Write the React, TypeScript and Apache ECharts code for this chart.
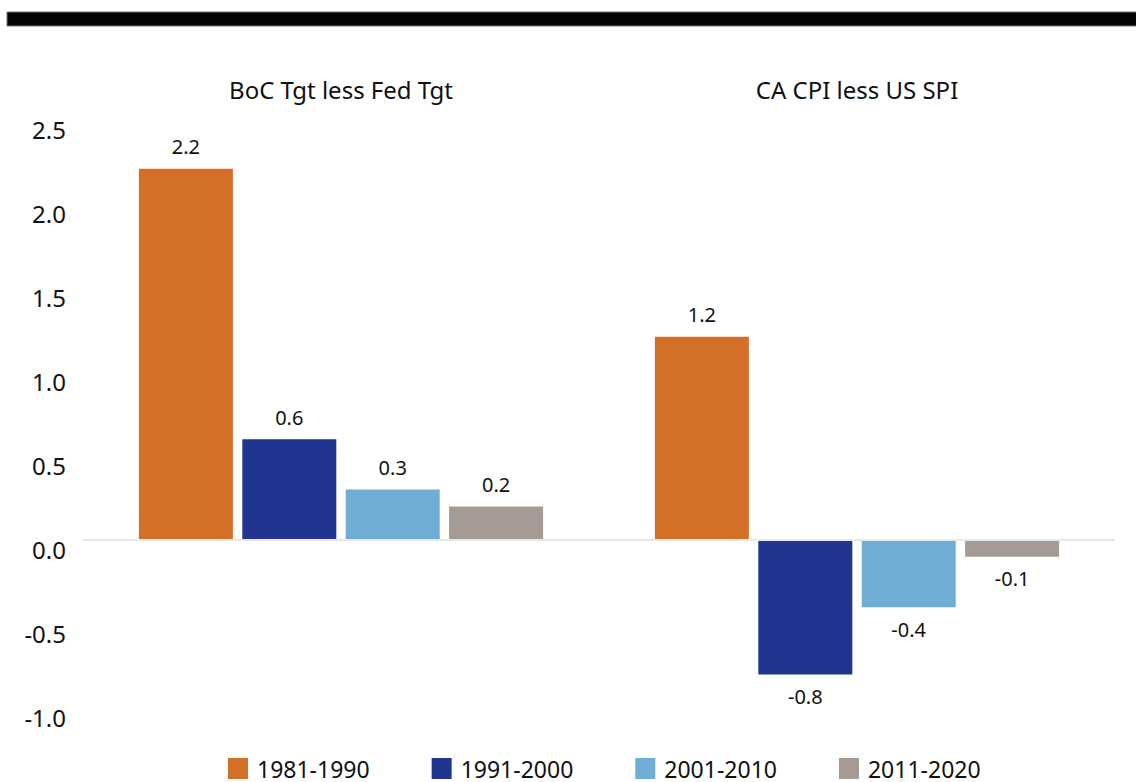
import React, { useEffect, useRef } from "react";
import * as echarts from "echarts";

const categories = ["BoC Tgt less Fed Tgt", "CA CPI less US SPI"];
const seriesNames = ["1981-1990", "1991-2000", "2001-2010", "2011-2020"];
const s1981 = [2.21, 1.21];
const s1991 = [0.6, -0.8];
const s2001 = [0.3, -0.4];
const s2011 = [0.2, -0.1];
const colors = ["#D46F28", "#1F3590", "#6FADD5", "#A59B94"];
const FONT = "'Noto Sans', 'Open Sans', sans-serif";

export default function App() {
  const ref = useRef<HTMLDivElement>(null);
  useEffect(() => {
    if (!ref.current) return;
    const chart = echarts.init(ref.current, null, { renderer: "svg" });
    const all = [s1981, s1991, s2001, s2011];
    const series: any[] = all.map((vals, i) => ({
      name: seriesNames[i],
      type: "bar",
      barWidth: 94,
      barGap: "10%",
      itemStyle: { color: colors[i] },
      data: vals.map((v) => ({
        value: v,
        label: { position: v < 0 ? "bottom" : "top" },
      })),
      label: {
        show: true,
        distance: 12,
        fontSize: 20,
        color: "#111",
        fontFamily: FONT,
        formatter: (p: any) => Number(p.value).toFixed(1),
      },
    }));
    series[0].markLine = {
      silent: true,
      symbol: "none",
      label: { show: false },
      lineStyle: { color: "#e8e8e8", width: 2, type: "solid" },
      data: [{ yAxis: 0 }],
    };
    chart.setOption({
      animation: false,
      textStyle: { fontFamily: FONT },
      grid: { left: 83, right: 21, top: 120, bottom: 74 },
      xAxis: {
        type: "category",
        position: "top",
        data: categories,
        axisLine: { show: false },
        axisTick: { show: false },
        axisLabel: { fontSize: 24, color: "#111", margin: 19, fontFamily: FONT },
      },
      yAxis: {
        type: "value",
        min: -1,
        max: 2.5,
        interval: 0.5,
        axisLine: { show: false },
        axisTick: { show: false },
        splitLine: { show: false },
        axisLabel: {
          fontSize: 24,
          color: "#111",
          margin: 17,
          verticalAlign: "top",
          lineHeight: 18,
          fontFamily: FONT,
          formatter: (v: number) => v.toFixed(1),
        },
      },
      legend: {
        data: seriesNames,
        left: 228,
        top: 757,
        padding: 0,
        itemWidth: 20,
        itemHeight: 21,
        itemGap: 62,
        icon: "rect",
        textStyle: { fontSize: 23, lineHeight: 21, color: "#111", fontFamily: FONT, padding: [0, 0, 0, 4] },
      },
      graphic: [
        {
          type: "rect",
          shape: { x: 7, y: 12, width: 1135, height: 14 },
          style: { fill: "#050505", stroke: "#777", lineWidth: 1 },
        },
      ],
      series,
    });
    return () => chart.dispose();
  }, []);
  return (
    <div
      ref={ref}
      style={{ position: "fixed", left: 0, top: 0, width: 1136, height: 782, background: "#fff" }}
    />
  );
}
